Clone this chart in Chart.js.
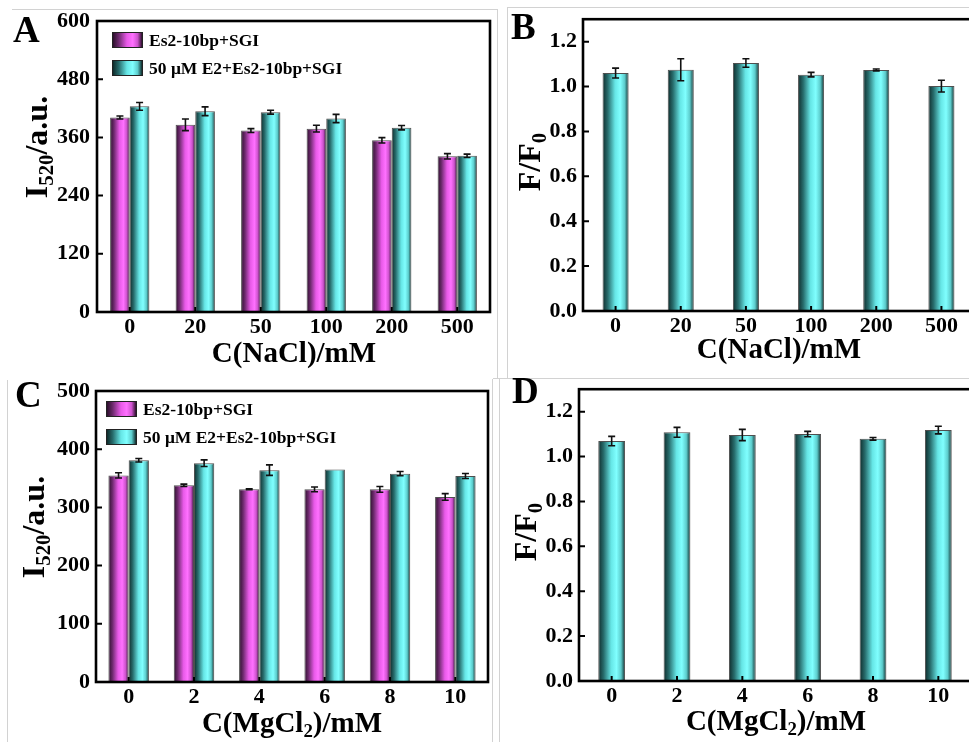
<!DOCTYPE html>
<html lang="en">
<head>
<meta charset="UTF-8">
<title>Salt tolerance of the Es2-10bp/SGI sensor</title>
<script src="https://cdn.jsdelivr.net/npm/chart.js@4.4.1/dist/chart.umd.min.js"></script>
<style>
  body {
    margin: 0;
    width: 969px;
    height: 742px;
    overflow: hidden;
    position: relative;
    background: #fff;
    color: #000;
    font-family: 'Liberation Serif', 'Times New Roman', serif;
    font-weight: bold;
  }
  canvas { position: absolute; }
  .rule { position: absolute; background: #d2d2d2; }
  .letter { position: absolute; font-size: 37px; line-height: 1; }
  .xtitle, .ytitle {
    position: absolute;
    line-height: 1;
    white-space: nowrap;
  }
  .xtitle { font-size: 29px; transform: translate(-50%, -50%); }
  .ytitle { font-size: 32px; transform: translate(-50%, -50%) rotate(-90deg); }
  sub { font-size: 0.65em; vertical-align: -0.28em; line-height: 0; }
  .key {
    position: absolute;
    display: flex;
    align-items: center;
    height: 16px;
    font-size: 17.5px;
    white-space: nowrap;
  }
  .swatch {
    width: 29px;
    height: 14px;
    margin-right: 6px;
    border: 1px solid #222;
  }
  .sw-mag { background: linear-gradient(to right, #2b0f2b 0%, #6e2a6e 20%, #e85ae8 48%, #ff70ff 68%, #cc52cc 85%, #2b0f2b 100%); }
  .sw-cyan { background: linear-gradient(to right, #0f2b2b 0%, #276c6c 20%, #66e6e6 48%, #80ffff 68%, #5ccccc 85%, #0f2b2b 100%); }
</style>
</head>
<body>

<!-- panel separators -->
<div class="rule" style="left:12px;top:9px;width:485px;height:1px"></div>
<div class="rule" style="left:497px;top:9px;width:1px;height:369px"></div>
<div class="rule" style="left:507px;top:7px;width:1px;height:371px"></div>
<div class="rule" style="left:507px;top:7px;width:462px;height:1px"></div>
<div class="rule" style="left:493px;top:378px;width:476px;height:1px"></div>
<div class="rule" style="left:492px;top:379px;width:1px;height:363px"></div>
<div class="rule" style="left:499px;top:379px;width:1px;height:363px"></div>
<div class="rule" style="left:7px;top:380px;width:1px;height:362px"></div>

<canvas id="chartA" width="500" height="370" style="left:0;top:0"></canvas>
<canvas id="chartB" width="490" height="370" style="left:490px;top:0"></canvas>
<canvas id="chartC" width="500" height="372" style="left:0;top:370px"></canvas>
<canvas id="chartD" width="490" height="372" style="left:490px;top:370px"></canvas>

<div class="letter" style="left:13px;top:11px">A</div>
<div class="letter" style="left:511px;top:8px">B</div>
<div class="letter" style="left:15px;top:376px">C</div>
<div class="letter" style="left:512px;top:372px">D</div>

<div class="xtitle" style="left:294px;top:352px">C(NaCl)/mM</div>
<div class="xtitle" style="left:779px;top:348px">C(NaCl)/mM</div>
<div class="xtitle" style="left:292px;top:722px">C(MgCl<sub>2</sub>)/mM</div>
<div class="xtitle" style="left:776px;top:720px">C(MgCl<sub>2</sub>)/mM</div>

<div class="ytitle" style="left:36px;top:147px">I<sub>520</sub>/a.u.</div>
<div class="ytitle" style="left:529px;top:162px">F/F<sub>0</sub></div>
<div class="ytitle" style="left:33px;top:527px">I<sub>520</sub>/a.u.</div>
<div class="ytitle" style="left:525px;top:532px">F/F<sub>0</sub></div>

<div class="key" style="left:112px;top:32px"><span class="swatch sw-mag"></span>Es2-10bp+SGI</div>
<div class="key" style="left:112px;top:60px"><span class="swatch sw-cyan"></span>50 μM E2+Es2-10bp+SGI</div>
<div class="key" style="left:106px;top:401px"><span class="swatch sw-mag"></span>Es2-10bp+SGI</div>
<div class="key" style="left:106px;top:429px"><span class="swatch sw-cyan"></span>50 μM E2+Es2-10bp+SGI</div>

<script>
// salt concentrations (mM)
const naclLevels = ['0', '20', '50', '100', '200', '500'];
const mgLevels = ['0', '2', '4', '6', '8', '10'];

// I520 of the probe alone and with 50 uM E2, NaCl series
const naclProbe = [401, 386, 374, 378, 354, 321];
const naclProbeErr = [3, 12, 4, 7, 5.5, 5.5];
const naclTarget = [424, 414, 412, 399, 380, 322];
const naclTargetErr = [8, 9, 4, 8.5, 4.5, 3.5];
// F/F0, NaCl series
const naclRatio = [1.060, 1.075, 1.105, 1.053, 1.074, 1.002];
const naclRatioErr = [0.022, 0.049, 0.019, 0.010, 0.004, 0.026];

// same for MgCl2
const mgProbe = [355, 338, 331, 331, 331, 318];
const mgProbeErr = [4.6, 2, 0.8, 4, 5, 5.7];
const mgTarget = [381, 376, 364, 365, 358, 354];
const mgTargetErr = [3, 5.7, 9, 0, 3.7, 4.3];
const mgRatio = [1.069, 1.108, 1.096, 1.100, 1.079, 1.118];
const mgRatioErr = [0.021, 0.022, 0.025, 0.012, 0.006, 0.017];

// y tick values
const naclIntensityTicks = [0, 120, 240, 360, 480, 600];
const mgIntensityTicks = [0, 100, 200, 300, 400, 500];
const ratioTicks = [0, 0.2, 0.4, 0.6, 0.8, 1.0, 1.2];

const magentaShade = [[0, '#2b0f2b'], [0.2, '#6e2a6e'], [0.48, '#e85ae8'], [0.68, '#ff70ff'], [0.85, '#cc52cc'], [1, '#2b0f2b']];
const cyanShade = [[0, '#0f2b2b'], [0.2, '#276c6c'], [0.48, '#66e6e6'], [0.68, '#80ffff'], [0.85, '#5ccccc'], [1, '#0f2b2b']];

const tickFont = { family: "'Liberation Serif', 'Times New Roman', serif", weight: 'bold', size: 22 };

// horizontal shading across each bar, so it looks like a cylinder
function cylinder(stops) {
    return function (c) {
        const el = c.element;
        if (!el || !isFinite(el.x) || !isFinite(el.width)) return stops[3][1];
        const left = el.x - el.width / 2;
        const g = c.chart.ctx.createLinearGradient(left, 0, left + el.width, 0);
        stops.forEach(function (s) { g.addColorStop(s[0], s[1]); });
        return g;
    };
}

// +/- SD whiskers taken from dataset.errors
const errorBars = {
    id: 'errorBars',
    afterDatasetsDraw(chart) {
        const ctx = chart.ctx;
        const y = chart.scales.y;
        ctx.save();
        ctx.strokeStyle = '#111';
        ctx.lineWidth = 1.6;
        chart.data.datasets.forEach(function (ds, i) {
            chart.getDatasetMeta(i).data.forEach(function (bar, j) {
                const v = ds.data[j];
                const e = ds.errors[j];
                if (!e) return;
                const hi = y.getPixelForValue(v + e);
                const lo = y.getPixelForValue(v - e);
                ctx.beginPath();
                ctx.moveTo(bar.x, hi); ctx.lineTo(bar.x, lo);
                ctx.moveTo(bar.x - 3.5, hi); ctx.lineTo(bar.x + 3.5, hi);
                ctx.moveTo(bar.x - 3.5, lo); ctx.lineTo(bar.x + 3.5, lo);
                ctx.stroke();
            });
        });
        ctx.restore();
    }
};

// closed box round the plot with inward ticks
const frameBox = {
    id: 'frameBox',
    afterDraw(chart) {
        const ctx = chart.ctx;
        const a = chart.chartArea;
        const x = chart.scales.x;
        const y = chart.scales.y;
        ctx.save();
        ctx.strokeStyle = '#000';
        ctx.lineWidth = 2;
        ctx.beginPath();
        y.ticks.forEach(function (t) {
            const py = y.getPixelForValue(t.value);
            ctx.moveTo(a.left, py); ctx.lineTo(a.left + 6, py);
        });
        x.ticks.forEach(function (t, i) {
            const px = x.getPixelForTick(i);
            ctx.moveTo(px, a.bottom); ctx.lineTo(px, a.bottom - 5);
        });
        ctx.stroke();
        ctx.lineWidth = 2.6;
        ctx.strokeRect(a.left, a.top, a.right - a.left, a.bottom - a.top);
        ctx.restore();
    }
};

function barSet(values, errors, shade) {
    return {
        data: values,
        errors: errors,
        backgroundColor: cylinder(shade),
        borderColor: 'rgba(20,20,20,0.75)',
        borderWidth: 1
    };
}

function drawPanel(id, labels, datasets, p) {
    const chart = new Chart(document.getElementById(id), {
        type: 'bar',
        data: { labels: labels, datasets: datasets },
        options: {
            responsive: false,
            animation: false,
            events: [],
            layout: { padding: { top: p.top, right: p.right, left: 0, bottom: 0 } },
            datasets: { bar: { categoryPercentage: p.group, barPercentage: p.bar } },
            plugins: { legend: { display: false }, tooltip: { enabled: false } },
            scales: {
                x: {
                    grid: { display: false, drawTicks: false },
                    border: { display: false },
                    ticks: { font: tickFont, color: '#000', padding: 2, maxRotation: 0 },
                    afterFit: function (s) { s.height = p.xh; }
                },
                y: {
                    min: 0,
                    max: p.max,
                    grid: { display: false, drawTicks: false },
                    border: { display: false },
                    ticks: { font: tickFont, color: '#000', padding: p.pad, callback: p.fmt },
                    afterBuildTicks: function (s) { s.ticks = p.ticks.map(function (v) { return { value: v }; }); },
                    afterFit: function (s) { s.width = p.yw; }
                }
            }
        },
        plugins: [errorBars, frameBox]
    });
    // second pass so the bar shading knows the bar positions
    chart.update('none');
    return chart;
}

const plain = function (v) { return String(v); };
const oneDecimal = function (v) { return Number(v).toFixed(1); };

drawPanel('chartA', naclLevels, [
    barSet(naclProbe, naclProbeErr, magentaShade),
    barSet(naclTarget, naclTargetErr, cyanShade)
], { top: 21, right: 10, yw: 97, xh: 58, max: 600, ticks: naclIntensityTicks, fmt: plain, pad: 7, group: 0.6, bar: 1 });

drawPanel('chartB', naclLevels, [
    barSet(naclRatio, naclRatioErr, cyanShade)
], { top: 19, right: 6, yw: 93, xh: 59, max: 1.3, ticks: ratioTicks, fmt: oneDecimal, pad: 6, group: 1, bar: 0.4 });

drawPanel('chartC', mgLevels, [
    barSet(mgProbe, mgProbeErr, magentaShade),
    barSet(mgTarget, mgTargetErr, cyanShade)
], { top: 21, right: 12, yw: 96, xh: 60, max: 500, ticks: mgIntensityTicks, fmt: plain, pad: 6, group: 0.62, bar: 1 });

drawPanel('chartD', mgLevels, [
    barSet(mgRatio, mgRatioErr, cyanShade)
], { top: 19, right: 9, yw: 89, xh: 61, max: 1.3, ticks: ratioTicks, fmt: oneDecimal, pad: 6, group: 1, bar: 0.41 });
</script>
</body>
</html>
